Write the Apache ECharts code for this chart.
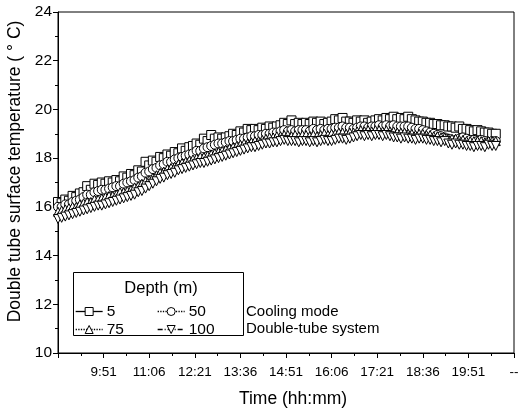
<!DOCTYPE html>
<html>
<head>
<meta charset="utf-8">
<script src="https://cdn.jsdelivr.net/npm/echarts@6/dist/echarts.min.js"></script>
<style>
  html, body { margin: 0; padding: 0; background: #fff; }
  #chart { width: 525px; height: 409px; }
</style>
</head>
<body>
<div id="chart"></div>
<script>
// minutes after 8:36, one reading every 6 minutes
var startClock = 8 * 60 + 36;
var stepMin = 6;
var yTicks = [10, 12, 14, 16, 18, 20, 22, 24];

var depth5 = [
    16.2,16.15,16.3,16.25,16.45,16.4,16.55,16.6,16.85,16.7,
    16.95,16.9,17.0,16.95,17.05,17.0,17.1,17.05,17.25,17.2,
    17.35,17.3,17.5,17.45,17.85,17.7,17.9,17.85,18.05,18.0,
    18.15,18.1,18.25,18.2,18.4,18.3,18.45,18.5,18.6,18.55,
    18.8,18.7,18.95,18.8,18.85,18.8,18.85,18.9,19.0,18.95,
    19.1,19.05,19.2,19.15,19.2,19.15,19.25,19.2,19.3,19.25,
    19.3,19.35,19.45,19.4,19.55,19.4,19.45,19.4,19.45,19.4,
    19.5,19.45,19.5,19.4,19.45,19.5,19.6,19.55,19.65,19.5,
    19.5,19.45,19.55,19.5,19.55,19.45,19.5,19.55,19.6,19.55,
    19.65,19.6,19.7,19.6,19.65,19.6,19.7,19.6,19.55,19.5,
    19.5,19.45,19.45,19.4,19.4,19.35,19.35,19.3,19.3,19.25,
    19.3,19.2,19.2,19.15,19.1,19.15,19.1,19.05,19.05,19.0,
    19.0
];
var depth50 = [
    16.0,16.0,16.1,16.1,16.2,16.25,16.3,16.4,16.5,16.5,
    16.6,16.65,16.7,16.7,16.75,16.8,16.85,16.85,16.95,17.0,
    17.05,17.1,17.2,17.25,17.4,17.45,17.55,17.6,17.7,17.75,
    17.85,17.85,17.95,18.0,18.05,18.1,18.15,18.2,18.3,18.3,
    18.4,18.45,18.5,18.55,18.6,18.6,18.65,18.7,18.7,18.75,
    18.8,18.8,18.85,18.9,18.9,18.95,18.95,19.0,19.0,19.05,
    19.05,19.1,19.15,19.1,19.15,19.1,19.15,19.15,19.15,19.1,
    19.2,19.15,19.2,19.15,19.2,19.2,19.25,19.25,19.3,19.25,
    19.25,19.2,19.25,19.3,19.3,19.25,19.3,19.3,19.35,19.3,
    19.35,19.3,19.35,19.3,19.3,19.3,19.3,19.25,19.2,19.2,
    19.15,19.1,19.05,19.0,18.95,18.9,18.85,18.8,18.7,18.75,
    18.8,18.85,18.8,18.75,18.75,18.7,18.75,18.7,18.65,18.7,
    18.7
];
var depth75 = [
    15.8,15.85,15.9,15.95,16.0,16.0,16.1,16.15,16.2,16.2,
    16.3,16.3,16.35,16.4,16.45,16.45,16.5,16.6,16.6,16.65,
    16.7,16.8,16.85,16.95,17.05,17.1,17.2,17.3,17.4,17.45,
    17.55,17.6,17.65,17.75,17.8,17.85,17.9,17.95,18.0,18.05,
    18.05,18.1,18.15,18.2,18.25,18.3,18.35,18.4,18.45,18.5,
    18.55,18.6,18.6,18.65,18.7,18.7,18.75,18.8,18.85,18.85,
    18.9,18.9,18.95,18.95,18.9,18.95,18.9,18.95,18.95,18.9,
    18.95,18.9,18.95,19.0,18.95,19.0,19.0,19.05,19.05,19.0,
    19.05,19.05,19.1,19.15,19.1,19.15,19.1,19.15,19.15,19.1,
    19.15,19.1,19.1,19.05,19.05,19.05,19.0,19.0,18.95,19.0,
    19.0,18.95,18.95,18.9,18.9,18.85,18.85,18.8,18.8,18.8,
    18.75,18.75,18.7,18.7,18.7,18.7,18.7,18.65,18.7,18.7,
    18.7
];
var depth100 = [
    15.5,15.55,15.6,15.65,15.7,15.75,15.8,15.85,15.9,15.95,
    16.0,16.05,16.05,16.1,16.15,16.2,16.25,16.3,16.35,16.4,
    16.45,16.5,16.6,16.65,16.75,16.85,16.95,17.05,17.15,17.2,
    17.3,17.35,17.4,17.5,17.55,17.6,17.65,17.7,17.75,17.8,
    17.8,17.85,17.9,17.95,18.0,18.05,18.1,18.15,18.2,18.25,
    18.3,18.35,18.4,18.45,18.45,18.5,18.55,18.6,18.6,18.65,
    18.65,18.7,18.75,18.7,18.7,18.7,18.65,18.7,18.7,18.65,
    18.7,18.65,18.7,18.75,18.7,18.7,18.75,18.8,18.8,18.75,
    18.8,18.85,18.9,18.95,18.9,18.95,18.9,18.95,18.95,18.9,
    18.95,18.9,18.85,18.85,18.8,18.85,18.8,18.8,18.75,18.8,
    18.8,18.75,18.75,18.7,18.7,18.65,18.7,18.6,18.55,18.6,
    18.55,18.55,18.5,18.5,18.45,18.5,18.5,18.45,18.55,18.5,
    18.5
];

function pairs(arr){
    return arr.map(function(v, i){ return [i * stepMin, v]; });
}
function clock(m){
    var t = startClock + m;
    var h = Math.floor(t / 60), mm = t % 60;
    return h + ':' + (mm < 10 ? '0' + mm : mm);
}

var font = 'Liberation Sans, Arial, sans-serif';
var marker = { color: '#fff', borderColor: '#000', borderWidth: 1 };
function mkSeries(name, data, symbol, lineType){
    return {
        name: name,
        type: 'line',
        data: pairs(data),
        symbol: symbol,
        symbolSize: 9,
        showSymbol: true,
        itemStyle: marker,
        lineStyle: { color: '#000', width: 1, type: lineType },
        animation: false,
        z: 3
    };
}

var myChart = echarts.init(document.getElementById('chart'));
var legendBase = {
    orient: 'vertical',
    top: 303.5,
    padding: 0,
    itemWidth: 27,
    itemHeight: 10,
    itemGap: 2,
    z: 20,
    selectedMode: false,
    itemStyle: { borderWidth: 1, borderColor: '#000' },
    lineStyle: { width: 1.3, color: '#000' },
    textStyle: { fontFamily: font, fontSize: 15.5, color: '#000', padding: [0, 0, 0, -1] }
};
var option = {
    backgroundColor: '#fff',
    animation: false,
    grid: {
        left: 58, right: 11, top: 12, bottom: 56,
        outerBoundsMode: 'none',
        show: true, borderColor: '#000', borderWidth: 1
    },
    xAxis: {
        type: 'value',
        min: 0,
        max: 750,
        interval: 75,
        name: 'Time (hh:mm)',
        nameLocation: 'middle',
        nameGap: 37,
        nameMoveOverlap: false,
        nameTextStyle: { fontFamily: font, fontSize: 17.5, color: '#000', padding: [0, 0, 0, 14] },
        axisLine: { lineStyle: { color: '#000', width: 1 } },
        axisTick: { inside: false, length: 5, lineStyle: { color: '#000' } },
        minorTick: { show: true, splitNumber: 2, length: 3, lineStyle: { color: '#000' } },
        splitLine: { show: false },
        axisLabel: {
            fontFamily: font, fontSize: 13.5, color: '#000', margin: 12,
            formatter: function(v){
                if (v === 0) return '';
                if (v === 750) return '--';
                return clock(v);
            }
        }
    },
    yAxis: {
        type: 'value',
        min: yTicks[0],
        max: yTicks[yTicks.length - 1],
        interval: 2,
        name: 'Double tube surface temperature ( ° C)',
        nameLocation: 'middle',
        nameGap: 32,
        nameTextStyle: { fontFamily: font, fontSize: 17.5, color: '#000', padding: [0, 0, 0, 22] },
        axisLine: { show: true, lineStyle: { color: '#000', width: 1 } },
        axisTick: { show: true, inside: false, length: 5, lineStyle: { color: '#000' } },
        minorTick: { show: true, splitNumber: 2, length: 3, lineStyle: { color: '#000' } },
        splitLine: { show: false },
        axisLabel: { fontFamily: font, fontSize: 15.5, color: '#000', margin: 6 }
    },
    legend: [
        Object.assign({}, legendBase, { left: 75, data: ['5', '75'] }),
        Object.assign({}, legendBase, { left: 157, data: ['50', '100'] })
    ],
    graphic: [
        { type: 'rect', shape: { x: 73.5, y: 272.5, width: 170, height: 63 },
          style: { fill: '#fff', stroke: '#000', lineWidth: 1 }, z: 5 },
        { type: 'text', x: 161, y: 288, z: 11,
          style: { text: 'Depth (m)', fontFamily: font, fontSize: 16.5, fill: '#000', align: 'center', verticalAlign: 'middle' } },
        { type: 'text', x: 246, y: 312, z: 11,
          style: { text: 'Cooling mode', fontFamily: font, fontSize: 15, fill: '#000', verticalAlign: 'middle' } },
        { type: 'text', x: 246, y: 329, z: 11,
          style: { text: 'Double-tube system', fontFamily: font, fontSize: 15, fill: '#000', verticalAlign: 'middle' } }
    ],
    series: [
        mkSeries('5', depth5, 'rect', 'solid'),
        mkSeries('50', depth50, 'circle', 'dotted'),
        mkSeries('75', depth75, 'triangle', 'dotted'),
        mkSeries('100', depth100, 'path://M0,0 L10,0 L5,10 Z', [5, 2, 1, 2])
    ]
};
myChart.setOption(option);
</script>
</body>
</html>
